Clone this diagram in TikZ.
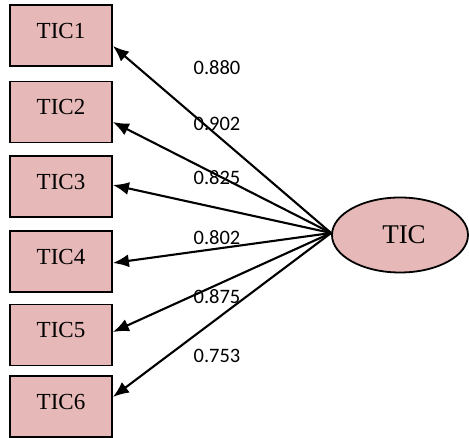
\documentclass[tikz,border=0pt]{standalone}
\usepackage{fontspec}
\setmainfont{Liberation Serif}
\newfontfamily\labfont{Carlito}
\usetikzlibrary{arrows.meta,shapes.geometric}
\definecolor{itemfill}{HTML}{E6B8B7}
\tikzset{
  itembox/.style={draw=black, line width=1.8pt, fill=itemfill, minimum width=102pt,
    minimum height=61pt, inner sep=0pt, font=\fontsize{23}{26}\selectfont, text depth=10pt},
  factor/.style={ellipse, draw=black, line width=1.8pt, fill=itemfill, minimum width=136pt,
    minimum height=75pt, inner sep=0pt, font=\fontsize{27}{30}\selectfont},
  loading/.style={font=\labfont\fontsize{20.5}{22}\selectfont, inner sep=0pt},
  path/.style={line width=2.1pt, -{Latex[length=16pt,width=13pt]}}
}
\begin{document}
\begin{tikzpicture}[x=1pt,y=-1pt]
  \useasboundingbox (0,0) rectangle (469,438);
  \node[itembox] (b1) at (61,35.5) {TIC1\hspace{11pt}};
  \node[itembox] (b2) at (61,112) {TIC2\hspace{11pt}};
  \node[itembox] (b3) at (61,186.5) {TIC3\hspace{11pt}};
  \node[itembox] (b4) at (61,261.5) {TIC4\hspace{11pt}};
  \node[itembox] (b5) at (61,335) {TIC5\hspace{11pt}};
  \node[itembox] (b6) at (61,406.5) {TIC6\hspace{11pt}};
  \node[factor] (f) at (400,235) {\hspace{8pt}TIC};
  \coordinate (src) at ([yshift=2pt]f.west);
  \draw[path] (src) -- ([yshift=-10.5pt]b1.east);
  \draw[path] (src) -- ([yshift=-10pt]b2.east);
  \draw[path] (src) -- ([yshift=1.5pt]b3.east);
  \draw[path] (src) -- ([yshift=-1.5pt]b4.east);
  \draw[path] (src) -- ([yshift=3pt]b5.east);
  \draw[path] (src) -- ([yshift=9.5pt]b6.east);
  \node[loading] (l1) at (217,68) {0.880};
  \node[loading] (l2) at (217,124) {0.902};
  \node[loading] (l3) at (217,178) {0.825};
  \node[loading] (l4) at (217,238) {0.802};
  \node[loading] (l5) at (217,297) {0.875};
  \node[loading] (l6) at (217,356) {0.753};
\end{tikzpicture}
\end{document}
